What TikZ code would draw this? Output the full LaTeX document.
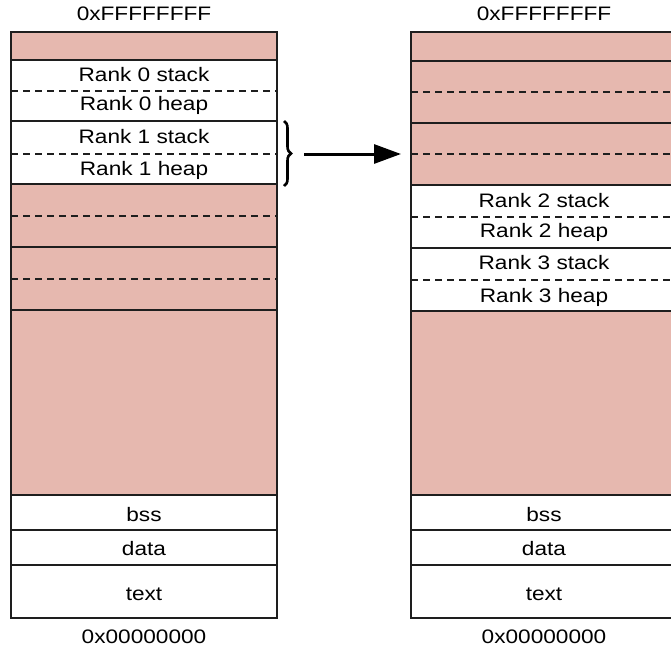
\documentclass[tikz,border=0pt]{standalone}
\usepackage{fontspec}
\setmainfont{Liberation Sans}[FakeStretch=1.16]
\usetikzlibrary{positioning}
\usetikzlibrary{arrows.meta}
\usetikzlibrary{decorations.pathreplacing}
\definecolor{segpink}{RGB}{230,184,175}
\definecolor{segline}{RGB}{30,30,30}
\begin{document}
\begin{tikzpicture}[%
x=1pt, y=-1pt,
every node/.style={font=\fontsize{19.5}{23}\selectfont, inner sep=0pt},
frei/.style={fill=segpink, draw=segline, line width=1.7pt},
brukt/.style={fill=white, draw=segline, line width=1.7pt},
skille/.style={draw=segline, dash pattern=on 7pt off 5pt, line width=1.6pt},
pil/.style={-{Triangle[length=27pt,width=19pt]}, line width=3pt}]
\useasboundingbox (0,0) rectangle (671,651);
% venstre kolonne
\node (topp1) at (144,14) {0xFFFFFFFF};
\draw [frei]  (11,32)  rectangle (277,60);
\draw [brukt] (11,60)  rectangle (277,121);
\draw [brukt] (11,121) rectangle (277,184);
\draw [frei]  (11,184) rectangle (277,247);
\draw [frei]  (11,247) rectangle (277,310);
\draw [frei]  (11,310) rectangle (277,495);
\draw [brukt] (11,495) rectangle (277,530);
\draw [brukt] (11,530) rectangle (277,565);
\draw [brukt] (11,565) rectangle (277,618);
\draw [skille] (11,91)  -- (277,91);
\draw [skille] (11,154) -- (277,154);
\draw [skille] (11,216) -- (277,216);
\draw [skille] (11,279) -- (277,279);
\node (r0s) at (144,75)  {Rank 0 stack};
\node (r0h) at (144,105) {Rank 0 heap};
\node (r1s) at (144,137) {Rank 1 stack};
\node (r1h) at (144,170) {Rank 1 heap};
\node (bss1)  at (144,515) {bss};
\node (data1) at (144,549) {data};
\node (text1) at (144,594) {text};
\node (bunn1) at (144,637) {0x00000000};
% hoyre kolonne
\node (topp2) at (544,14) {0xFFFFFFFF};
\draw [frei]  (411,32)  rectangle (677,61);
\draw [frei]  (411,61)  rectangle (677,123);
\draw [frei]  (411,123) rectangle (677,185);
\draw [brukt] (411,185) rectangle (677,248);
\draw [brukt] (411,248) rectangle (677,311);
\draw [frei]  (411,311) rectangle (677,495);
\draw [brukt] (411,495) rectangle (677,530);
\draw [brukt] (411,530) rectangle (677,565);
\draw [brukt] (411,565) rectangle (677,618);
\draw [skille] (411,92)  -- (677,92);
\draw [skille] (411,154) -- (677,154);
\draw [skille] (411,217) -- (677,217);
\draw [skille] (411,280) -- (677,280);
\node (r2s) at (544,201) {Rank 2 stack};
\node (r2h) at (544,232) {Rank 2 heap};
\node (r3s) at (544,263) {Rank 3 stack};
\node (r3h) at (544,297) {Rank 3 heap};
\node (bss2)  at (544,515) {bss};
\node (data2) at (544,549) {data};
\node (text2) at (544,594) {text};
\node (bunn2) at (544,637) {0x00000000};
% klamme og pil
\coordinate (klammetopp) at (284,121);
\coordinate (klammebunn) at (284,186);
\coordinate (pilstart) at (304,154);
\coordinate (pilslutt) at (401,154);
\draw [decorate, decoration={brace, amplitude=7pt}, line width=2.6pt]
(klammetopp) -- (klammebunn);
\draw [pil] (pilstart) -- (pilslutt);
\end{tikzpicture}
\end{document}
